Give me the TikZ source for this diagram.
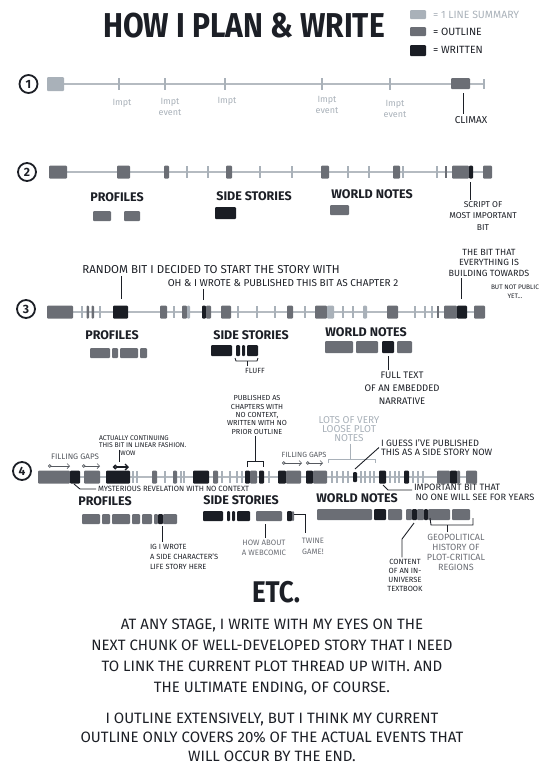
\documentclass[tikz,border=0pt]{standalone}
\usepackage{fontspec}
\setmainfont{Fira Sans}
\usetikzlibrary{arrows.meta}

\definecolor{sumc}{HTML}{A9B1B9}
\definecolor{outc}{HTML}{6B6E75}
\definecolor{wrc}{HTML}{1A1D24}
\definecolor{linec}{HTML}{B5BBC1}
\definecolor{inkc}{HTML}{1C1F26}
\definecolor{grayc}{HTML}{55595F}

\newcommand\fsz[2]{\fontsize{#1}{#2}\selectfont}
% blocks and ticks along one timeline row
\newcommand\blocks[2]{\foreach \xa/\xb/\st in {#2}{\fill[\st] (\xa,#1-6.5) rectangle (\xb,#1+6.5);}}
\newcommand\ticks[2]{\foreach \xa/\st in {#2}{\draw[\st] (\xa,#1-6) -- (\xa,#1+6);}}

\tikzset{
  sm/.style={fill=sumc,rounded corners=1pt},
  ol/.style={fill=outc,rounded corners=1pt},
  wr/.style={fill=wrc,rounded corners=1pt},
  tksm/.style={draw=sumc,line width=1.6pt},
  tkol/.style={draw=outc,line width=1.6pt},
  tline/.style={draw=linec,line width=2.4pt},
  ptr/.style={draw=inkc,line width=0.9pt},
  numc/.style={circle,draw=inkc,line width=1.8pt,minimum size=18pt,inner sep=0pt,
    font=\bfseries\fsz{12}{12},text=inkc},
  lbl/.style={inner sep=0pt,outer sep=2pt,align=center,text=inkc},
  head/.style={lbl,font=\bfseries\fsz{12.5}{14}},
  lowl/.style={lbl,text=sumc,font=\fsz{9}{11}},
  gaparr/.style={draw=grayc,line width=0.7pt,{Circle[open,length=3.5pt]}-{Straight Barb[length=2.5pt]}},
  wrarr/.style={draw=wrc,line width=1.3pt,{Circle[open,length=4.5pt]}-{Straight Barb[length=3pt]}}
}

\begin{document}
\begin{tikzpicture}[x=1pt,y=-1pt]
\useasboundingbox (0,0) rectangle (540,764);

% title and key
\node[lbl,font=\bfseries\fsz{30}{30}] (ttl) at (244,26) {\scalebox{1}[1.15]{HOW I PLAN \& WRITE}};
\fill[sm] (410,10) rectangle (426,19);
\fill[ol] (410,27) rectangle (426,36);
\fill[wr] (410,45) rectangle (426,56);
\node[lbl,anchor=west,text=sumc,font=\fsz{10.5}{12}] (key1) at (431,15) {= 1 LINE SUMMARY};
\node[lbl,anchor=west,font=\fsz{10.5}{12}] (key2) at (431,32) {= OUTLINE};
\node[lbl,anchor=west,font=\fsz{10.5}{12}] (key3) at (431,50) {= WRITTEN};

% row 1
\node[numc] (n1) at (28.5,84) {1};
\draw[tline] (55,84) -- (484,84);
\ticks{84}{119/tksm,165/tksm,225/tksm,322/tksm,390/tksm}
\draw[tksm] (484,79) -- (484,89);
\fill[sm] (47,77) rectangle (64,91);
\fill[ol] (451,78) rectangle (470,89);
\node[lowl] (ev1) at (122,103) {Impt};
\node[lowl] (ev2) at (170,106.5) {Impt\\event};
\node[lowl] (ev3) at (227,101) {Impt};
\node[lowl] (ev4) at (327,105) {Impt\\event};
\node[lowl] (ev5) at (395,109) {Impt\\event};
\coordinate (climpt) at (463,93);
\node[lbl,font=\fsz{10}{11}] (climax) at (471,120) {CLIMAX};
\draw[ptr] (climpt) -- (climpt |- climax.north);

% row 2
\node[numc] (n2) at (27,172) {2};
\draw[tline] (60,172) -- (488,172);
\ticks{172}{187/tksm,208/tksm,260/tksm,292/tksm,348/tksm,369/tksm,403/tksm,437/tksm,446/tkol}
\blocks{172}{49/67/ol,117/130/ol,164/169/ol,226/232/ol,321/329/ol,393/400/ol,452/469/ol,469/473/wr,483/492/ol}
\coordinate (scrpt) at (470,182);
\node[lbl,font=\fsz{8.5}{11.5}] (script) at (483,216) {SCRIPT OF\\MOST IMPORTANT\\BIT};
\draw[ptr] (scrpt) -- (scrpt |- script.north);
\node[head] (prof2) at (117,197) {PROFILES};
\node[head] (side2) at (254,196) {SIDE STORIES};
\node[head] (world2) at (372,194) {WORLD NOTES};
\fill[ol] (93,211) rectangle (111,221);
\fill[ol] (124,211) rectangle (140,221);
\fill[wr] (215,207) rectangle (236,219);
\fill[ol] (330,205) rectangle (349,215);

% row 3
\node[numc] (n3) at (26,309) {3};
\draw[tline] (60,312) -- (480,312);
\ticks{312}{82/tksm,100/tksm,174/tksm,238/tksm,257/tksm,275/tksm,305/tksm,343/tksm,353/tksm,415/tksm,425/tksm,432/tksm,438/tkol}
\blocks{312}{47/73/ol,86.5/89/ol,91.5/94/ol,113/128/wr,160/167/ol,182/187/ol,187/190/sm,202/206/wr,206/211/ol,221/231/ol,287/293/ol,315/327/ol,327/334/sm,363/367/sm,387/398/ol,444/457/ol,457/467/wr,474/485/ol}
\node[lbl,font=\fsz{11.5}{13}] (random) at (211,270) {RANDOM BIT I DECIDED TO START THE STORY WITH};
\node[lbl,font=\fsz{10}{11}] (chap2) at (283,283) {OH \& I WROTE \& PUBLISHED THIS BIT AS CHAPTER 2};
\coordinate (randpt) at (121,299);
\coordinate (chappt) at (203,300);
\draw[ptr] (randpt) -- (randpt |- random.south);
\draw[ptr] (chappt) -- (chappt |- chap2.south);
\node[lbl,font=\fsz{9}{10.5}] (bit) at (489,262.5) {THE BIT THAT\\EVERYTHING IS\\BUILDING TOWARDS};
\node[lbl,font=\fsz{6.5}{9}] (notpub) at (515,291.5) {BUT NOT PUBLIC\\YET...};
\coordinate (bitpt) at (461,299);
\draw[ptr] (bitpt) -- (bitpt |- bit.south);
\node[head] (prof3) at (112,335) {PROFILES};
\node[head] (side3) at (251,335) {SIDE STORIES};
\node[head] (world3) at (366,332) {WORLD NOTES};
\foreach \xa/\xb in {90/110,112/118,120/138,140/147}{\fill[ol] (\xa,348) rectangle (\xb,358);}
\foreach \xa/\xb in {211/232,236/240,242/245,247/258}{\fill[wr] (\xa,345) rectangle (\xb,356);}
\foreach \xa/\xb/\st in {325/353/ol,356/378/ol,382/394/wr,397/412/ol}{\fill[\st] (\xa,341) rectangle (\xb,353);}
\node[lbl,font=\fsz{7.5}{8}] (fluff) at (255,371) {FLUFF};
\coordinate (fluffpt) at (247,361);
\draw[ptr] (235,358) -- (236,361) -- (257,361) -- (258,358);
\draw[ptr] (fluffpt) -- (fluffpt |- fluff.north);
\node[lbl,font=\fsz{9.5}{13}] (fulltext) at (402,388) {FULL TEXT\\OF AN EMBEDDED\\NARRATIVE};
\coordinate (fullpt) at (388,356);
\draw[ptr] (fullpt) -- (fullpt |- fulltext.north);

% row 4
\node[numc] (n4) at (22,471) {4};
\draw[tline] (60,477) -- (472,477);
\ticks{477}{133/tksm,137/tksm,165/tksm,181/tksm,184/tksm,222/tksm,230/tksm,237/tksm,242/tksm,269/tksm,332/tksm,337/tksm,343/tksm,348/tksm,361/tksm,365/tksm,370/tksm,374/tksm,390/tksm,395/tksm,399/tksm,413/tksm,418/tksm,423/tksm}
\blocks{477}{38/70/ol,70/80/wr,84/100/ol,106/130/wr,152/157/ol,173/177/ol,193/209/wr,213/218/ol,245/250/wr,250/257/ol,259/264/wr,278/286/wr,286/301/ol,306/313/wr,313/327/ol,379/386/wr,404/409/wr,437/450/ol,450/457/wr,457/460/ol,466/477/ol}
\fill[wr] (353,472) rectangle (357,482);
% gap arrows
\node[lbl,text=grayc,font=\fsz{8}{9}] (gaps1) at (75,457) {FILLING GAPS};
\node[lbl,text=grayc,font=\fsz{7.5}{9}] (gaps2) at (304,455) {FILLING GAPS};
\coordinate (g1a) at (48,466); \coordinate (g1b) at (70,466);
\coordinate (g2a) at (82,466); \coordinate (g2b) at (100,466);
\coordinate (g3a) at (282,463); \coordinate (g3b) at (302,463);
\coordinate (g4a) at (306,463); \coordinate (g4b) at (323,463);
\draw[gaparr] (g1a) -- (g1b);
\draw[gaparr] (g2a) -- (g2b);
\draw[gaparr] (g3a) -- (g3b);
\draw[gaparr] (g4a) -- (g4b);
\node[lbl,anchor=west,align=left,font=\fsz{6.8}{7.2}] (linear) at (97,441.5) {ACTUALLY CONTINUING\\THIS BIT IN LINEAR FASHION.};
\node[lbl,font=\fsz{6.5}{7}] (wow) at (128,453) {WOW};
\coordinate (lina) at (113,467); \coordinate (linb) at (129,467);
\coordinate (linpt) at (119,462);
\draw[wrarr] (lina) -- (linb);
\draw[ptr] (linpt |- linear.south) -- (linpt);
\node[lbl,anchor=west,font=\fsz{7.6}{9}] (myst) at (96,489) {MYSTERIOUS REVELATION WITH NO CONTEXT};
\coordinate (mystpt) at (74,484);
\draw[ptr] (mystpt) -- (80,489) -- (myst.west);
\node[lbl,font=\fsz{7.3}{8.4}] (pub) at (257,415) {PUBLISHED AS\\CHAPTERS WITH\\NO CONTEXT,\\WRITTEN WITH NO\\PRIOR OUTLINE};
\coordinate (pubpt) at (255,461);
\draw[ptr] (pubpt |- pub.south) -- (pubpt);
\draw[ptr] (247,467) -- (247,461) -- (263,461) -- (263,467);
\node[lbl,text=sumc,font=\fsz{10}{9}] (lots) at (349,429) {LOTS OF VERY\\LOOSE PLOT\\NOTES};
\coordinate (lotspt) at (350,459);
\draw[draw=sumc,line width=0.9pt] (328,463) -- (328,459) -- (375,459) -- (375,463);
\draw[draw=sumc,line width=0.9pt] (lotspt |- lots.south) -- (lotspt);
\node[lbl,anchor=west,align=left,font=\fsz{9.2}{9.5}] (guess) at (379,447.5) {I GUESS I'VE PUBLISHED\\THIS AS A SIDE STORY NOW};
\coordinate (guesspt) at (355,469);
\draw[ptr] (guesspt) -- (guess.west);
\node[lbl,anchor=west,align=left,font=\fsz{9.2}{9.5}] (years) at (412,492.5) {IMPORTANT BIT THAT\\\,NO ONE WILL SEE FOR YEARS};
\coordinate (yearspt) at (383,485);
\draw[ptr] (yearspt) -- (388,490) -- (412,490);

\node[head] (prof4) at (105,501) {PROFILES};
\node[head] (side4) at (241,500) {SIDE STORIES};
\node[head] (world4) at (357,498) {WORLD NOTES};
\foreach \xa/\xb/\st in {82/100/ol,102/110/ol,112/130/ol,132/140/ol,142/152/ol,154/158/ol,158/163/wr,163/177/ol}{\fill[\st] (\xa,514) rectangle (\xb,524);}
\foreach \xa/\xb/\st in {203/223/wr,227/230/wr,232/235/wr,237/250/wr,256/282/ol,287/292/wr,292/294/ol}{\fill[\st] (\xa,511) rectangle (\xb,521);}
\foreach \xa/\xb/\st in {317/372/ol,374/386/wr,388/402/ol,406/412/ol,412/417/wr,417/424/ol,424/428/wr,428/450/ol,452/470/ol}{\fill[\st] (\xa,509) rectangle (\xb,520);}
\node[lbl,anchor=west,align=left,font=\fsz{7.5}{10}] (ig) at (148,557) {IG I WROTE\\A SIDE CHARACTER'S\\LIFE STORY HERE};
\coordinate (igpt) at (162,526);
\draw[ptr] (igpt) -- (igpt |- ig.north);
\node[lbl,text=outc,font=\fsz{7.8}{10}] (comic) at (264,548) {HOW ABOUT\\A WEBCOMIC};
\coordinate (comicpt) at (265,524);
\draw[ptr] (comicpt) -- (comicpt |- comic.north);
\node[lbl,text=outc,font=\fsz{7.8}{11}] (twine) at (313,546) {TWINE\\GAME!};
\coordinate (twinept) at (294,514);
\draw[ptr] (twinept) -- (305,514) -- (305,533);
\node[lbl,font=\fsz{7.5}{9}] (textbook) at (405,575.5) {CONTENT\\OF AN IN-\\UNIVERSE\\TEXTBOOK};
\coordinate (bookpt) at (414,523);
\coordinate (bookbend) at (402,539);
\draw[ptr] (bookpt) -- (bookbend) -- (bookbend |- textbook.north);
\node[lbl,text=outc,font=\fsz{9}{10}] (geo) at (456,552) {GEOPOLITICAL\\HISTORY OF\\PLOT-CRITICAL\\REGIONS};
\coordinate (geopt) at (447,525);
\draw[ptr] (430,518) -- (431,525) -- (473,525) -- (473,518);
\draw[ptr] (geopt) -- (geopt |- geo.north);

% closing text
\node[lbl,font=\bfseries\fsz{26}{26}] (etc) at (276,592) {\scalebox{1}[1.15]{ETC.}};
\node[lbl,font=\fsz{15}{20.7}] (para1) at (272,657) {AT ANY STAGE, I WRITE WITH MY EYES ON THE\\NEXT CHUNK OF WELL-DEVELOPED STORY THAT I NEED\\TO LINK THE CURRENT PLOT THREAD UP WITH. AND\\THE ULTIMATE ENDING, OF COURSE.};
\node[lbl,font=\fsz{15}{19}] (para2) at (272,737) {I OUTLINE EXTENSIVELY, BUT I THINK MY CURRENT\\OUTLINE ONLY COVERS 20\% OF THE ACTUAL EVENTS THAT\\WILL OCCUR BY THE END.};
\end{tikzpicture}
\end{document}
